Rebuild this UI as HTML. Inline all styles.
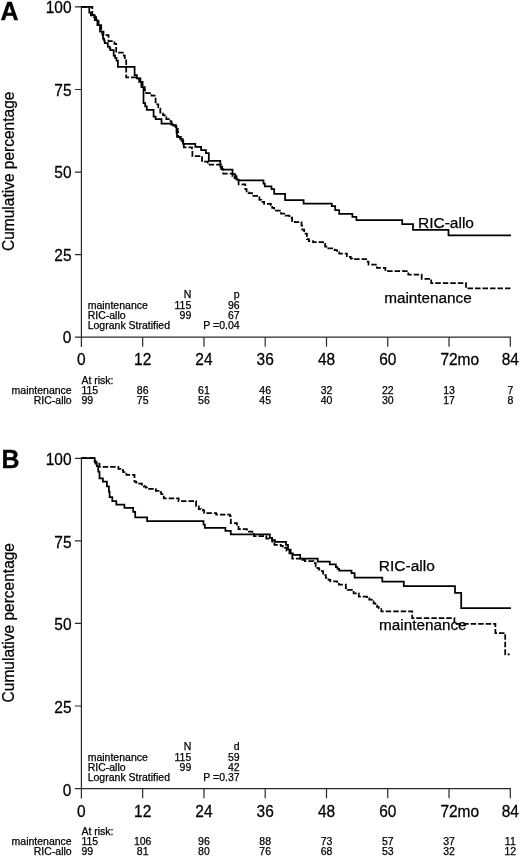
<!DOCTYPE html>
<html><head><meta charset="utf-8"><title>Kaplan-Meier</title>
<style>
html,body{margin:0;padding:0;background:#fff;}
body{width:520px;height:860px;overflow:hidden;}
svg{display:block;}
text{font-family:"Liberation Sans",Arial,sans-serif;fill:#000;stroke:#000;stroke-width:0.25px;}
.t15{font-size:15.5px;}
.t15c{font-size:15.3px;}
.t10{font-size:10.5px;}
.big{font-size:25px;font-weight:bold;fill:#000;stroke-width:0.3px;}
.ax{fill:none;stroke:#2a2a2a;stroke-width:1.2;}
.s{fill:none;stroke:#000;stroke-width:1.75;stroke-linejoin:miter;}
.d{fill:none;stroke:#000;stroke-width:1.75;stroke-dasharray:5.5 2;stroke-linejoin:miter;}
</style></head>
<body>
<svg width="520" height="860" viewBox="0 0 520 860">
<path d="M81.4 6.300000000000001V347.0M80.80000000000001 337.2H510.90000000000003" class="ax"/>
<path d="M74.9 6.90H81.4M74.9 89.48H81.4M74.9 172.05H81.4M74.9 254.63H81.4M74.9 337.20H81.4M142.67 337.2V346.8M203.94 337.2V346.8M265.21 337.2V346.8M326.49 337.2V346.8M387.76 337.2V346.8M449.03 337.2V346.8M510.30 337.2V346.8" class="ax"/>
<text transform="translate(71.5 13.1) scale(1 1.05)" class="t15" text-anchor="end">100</text>
<text transform="translate(71.5 95.7) scale(1 1.05)" class="t15" text-anchor="end">75</text>
<text transform="translate(71.5 178.2) scale(1 1.05)" class="t15" text-anchor="end">50</text>
<text transform="translate(71.5 260.8) scale(1 1.05)" class="t15" text-anchor="end">25</text>
<text transform="translate(71.5 343.4) scale(1 1.05)" class="t15" text-anchor="end">0</text>
<text transform="translate(81.4 364.7) scale(1 1.05)" class="t15" text-anchor="middle">0</text>
<text transform="translate(142.7 364.7) scale(1 1.05)" class="t15" text-anchor="middle">12</text>
<text transform="translate(203.9 364.7) scale(1 1.05)" class="t15" text-anchor="middle">24</text>
<text transform="translate(265.2 364.7) scale(1 1.05)" class="t15" text-anchor="middle">36</text>
<text transform="translate(326.5 364.7) scale(1 1.05)" class="t15" text-anchor="middle">48</text>
<text transform="translate(387.8 364.7) scale(1 1.05)" class="t15" text-anchor="middle">60</text>
<text transform="translate(440.4 364.7) scale(1 1.05)" class="t15">72mo</text>
<text transform="translate(510.3 364.7) scale(1 1.05)" class="t15" text-anchor="middle">84</text>
<text transform="translate(14.3 171.3) rotate(-90) scale(1 1.06)" class="t15" text-anchor="middle">Cumulative percentage</text>
<text x="0.4" y="19.5" class="big">A</text>
<text x="191.3" y="297.8" class="t10" text-anchor="end">N</text>
<text x="239.6" y="297.8" class="t10" text-anchor="end">p</text>
<text x="87.7" y="308.7" class="t10">maintenance</text>
<text x="191.3" y="308.7" class="t10" text-anchor="end">115</text>
<text x="239.6" y="308.7" class="t10" text-anchor="end">96</text>
<text x="87.7" y="319.0" class="t10">RIC-allo</text>
<text x="191.3" y="319.0" class="t10" text-anchor="end">99</text>
<text x="239.6" y="319.0" class="t10" text-anchor="end">67</text>
<text x="87.7" y="329.2" class="t10">Logrank Stratified</text>
<text x="239.6" y="329.2" class="t10" text-anchor="end">P =0.04</text>
<text x="81.4" y="383.6" class="t10">At risk:</text>
<text x="71.7" y="393.7" class="t10" text-anchor="end">maintenance</text>
<text x="71.7" y="403.8" class="t10" text-anchor="end">RIC-allo</text>
<text x="81.4" y="393.7" class="t10">115</text>
<text x="142.7" y="393.7" class="t10" text-anchor="middle">86</text>
<text x="203.9" y="393.7" class="t10" text-anchor="middle">61</text>
<text x="265.2" y="393.7" class="t10" text-anchor="middle">46</text>
<text x="326.5" y="393.7" class="t10" text-anchor="middle">32</text>
<text x="387.8" y="393.7" class="t10" text-anchor="middle">22</text>
<text x="449.0" y="393.7" class="t10" text-anchor="middle">13</text>
<text x="510.3" y="393.7" class="t10" text-anchor="middle">7</text>
<text x="81.4" y="403.8" class="t10">99</text>
<text x="142.7" y="403.8" class="t10" text-anchor="middle">75</text>
<text x="203.9" y="403.8" class="t10" text-anchor="middle">56</text>
<text x="265.2" y="403.8" class="t10" text-anchor="middle">45</text>
<text x="326.5" y="403.8" class="t10" text-anchor="middle">40</text>
<text x="387.8" y="403.8" class="t10" text-anchor="middle">30</text>
<text x="449.0" y="403.8" class="t10" text-anchor="middle">17</text>
<text x="510.3" y="403.8" class="t10" text-anchor="middle">8</text>
<text x="418.0" y="228.0" class="t15">RIC-allo</text>
<text x="384.2" y="303.4" class="t15c">maintenance</text>
<path d="M81.4 457.69999999999993V798.3999999999999M80.80000000000001 788.5999999999999H510.90000000000003" class="ax"/>
<path d="M74.9 458.30H81.4M74.9 540.88H81.4M74.9 623.45H81.4M74.9 706.02H81.4M74.9 788.60H81.4M142.67 788.5999999999999V798.1999999999999M203.94 788.5999999999999V798.1999999999999M265.21 788.5999999999999V798.1999999999999M326.49 788.5999999999999V798.1999999999999M387.76 788.5999999999999V798.1999999999999M449.03 788.5999999999999V798.1999999999999M510.30 788.5999999999999V798.1999999999999" class="ax"/>
<text transform="translate(71.5 465.2) scale(1 1.05)" class="t15" text-anchor="end">100</text>
<text transform="translate(71.5 547.8) scale(1 1.05)" class="t15" text-anchor="end">75</text>
<text transform="translate(71.5 630.4) scale(1 1.05)" class="t15" text-anchor="end">50</text>
<text transform="translate(71.5 712.9) scale(1 1.05)" class="t15" text-anchor="end">25</text>
<text transform="translate(71.5 795.5) scale(1 1.05)" class="t15" text-anchor="end">0</text>
<text transform="translate(81.4 816.8) scale(1 1.05)" class="t15" text-anchor="middle">0</text>
<text transform="translate(142.7 816.8) scale(1 1.05)" class="t15" text-anchor="middle">12</text>
<text transform="translate(203.9 816.8) scale(1 1.05)" class="t15" text-anchor="middle">24</text>
<text transform="translate(265.2 816.8) scale(1 1.05)" class="t15" text-anchor="middle">36</text>
<text transform="translate(326.5 816.8) scale(1 1.05)" class="t15" text-anchor="middle">48</text>
<text transform="translate(387.8 816.8) scale(1 1.05)" class="t15" text-anchor="middle">60</text>
<text transform="translate(440.4 816.8) scale(1 1.05)" class="t15">72mo</text>
<text transform="translate(510.3 816.8) scale(1 1.05)" class="t15" text-anchor="middle">84</text>
<text transform="translate(14.3 622.7) rotate(-90) scale(1 1.06)" class="t15" text-anchor="middle">Cumulative percentage</text>
<text x="1.4" y="468.0" class="big">B</text>
<text x="191.3" y="749.9" class="t10" text-anchor="end">N</text>
<text x="239.6" y="749.9" class="t10" text-anchor="end">d</text>
<text x="87.7" y="760.8" class="t10">maintenance</text>
<text x="191.3" y="760.8" class="t10" text-anchor="end">115</text>
<text x="239.6" y="760.8" class="t10" text-anchor="end">59</text>
<text x="87.7" y="771.1" class="t10">RIC-allo</text>
<text x="191.3" y="771.1" class="t10" text-anchor="end">99</text>
<text x="239.6" y="771.1" class="t10" text-anchor="end">42</text>
<text x="87.7" y="781.3" class="t10">Logrank Stratified</text>
<text x="239.6" y="781.3" class="t10" text-anchor="end">P =0.37</text>
<text x="81.4" y="835.0" class="t10">At risk:</text>
<text x="71.7" y="845.1" class="t10" text-anchor="end">maintenance</text>
<text x="71.7" y="855.2" class="t10" text-anchor="end">RIC-allo</text>
<text x="81.4" y="845.1" class="t10">115</text>
<text x="142.7" y="845.1" class="t10" text-anchor="middle">106</text>
<text x="203.9" y="845.1" class="t10" text-anchor="middle">96</text>
<text x="265.2" y="845.1" class="t10" text-anchor="middle">88</text>
<text x="326.5" y="845.1" class="t10" text-anchor="middle">73</text>
<text x="387.8" y="845.1" class="t10" text-anchor="middle">57</text>
<text x="449.0" y="845.1" class="t10" text-anchor="middle">37</text>
<text x="510.3" y="845.1" class="t10" text-anchor="middle">11</text>
<text x="81.4" y="855.2" class="t10">99</text>
<text x="142.7" y="855.2" class="t10" text-anchor="middle">81</text>
<text x="203.9" y="855.2" class="t10" text-anchor="middle">80</text>
<text x="265.2" y="855.2" class="t10" text-anchor="middle">76</text>
<text x="326.5" y="855.2" class="t10" text-anchor="middle">68</text>
<text x="387.8" y="855.2" class="t10" text-anchor="middle">53</text>
<text x="449.0" y="855.2" class="t10" text-anchor="middle">32</text>
<text x="510.3" y="855.2" class="t10" text-anchor="middle">12</text>
<text x="378.8" y="570.6" class="t15">RIC-allo</text>
<text x="379.0" y="629.8" class="t15c">maintenance</text>
<path d="M81.4 6.9L89.3 6.9L89.3 12.6L90.9 12.6L90.9 15.4L92.1 15.4L94.8 15.4L94.8 20.2L97.4 20.2L97.4 25.0L100.0 25.0L100.0 31.7L102.3 31.7L102.3 34.6L103.0 34.6L103.0 38.5L104.0 38.5L104.0 40.4L104.7 40.4L104.7 43.2L107.8 43.2L107.8 46.7L109.6 46.7L109.6 48.0L110.3 48.0L110.3 50.1L113.0 50.1L113.7 50.1L113.7 55.7L115.1 55.7L115.1 57.8L116.5 57.8L116.5 60.6L117.9 60.6L117.9 66.9L133.4 66.9L134.6 66.9L134.6 75.0L136.9 75.0L136.9 78.4L139.2 78.4L139.2 81.9L141.4 81.9L141.4 87.0L143.5 87.0L143.5 90.3L143.5 103.0L145.2 103.0L145.2 106.4L146.8 106.4L146.8 109.8L152.2 109.8L153.6 109.8L153.6 116.5L155.6 116.5L155.6 119.2L161.5 119.2L161.5 123.5L169.2 123.5L171.3 123.5L171.3 124.5L173.3 124.5L173.3 125.5L175.4 125.5L175.4 126.5L176.5 126.5L176.5 132.3L177.0 132.3L177.0 136.9L180.0 136.9L180.0 138.8L181.5 138.8L181.5 140.8L183.0 140.8L183.0 142.3L183.0 143.8L195.3 143.8L195.3 146.8L201.1 146.8L201.1 150.2L205.9 150.2L205.9 153.1L208.8 153.1L208.8 160.8L220.3 160.8L220.3 166.5L222.2 166.5L222.2 169.5L231.2 169.5L232.5 169.5L232.5 174.2L235.2 174.2L235.2 176.2L236.5 176.2L236.5 179.6L238.6 179.6L238.6 180.3L262.1 180.3L263.5 180.3L263.5 183.6L264.8 183.6L264.8 186.3L270.2 186.3L271.5 186.3L271.5 189.0L274.2 189.0L274.2 193.8L285.1 193.8L285.1 200.1L303.6 200.1L303.6 203.5L331.8 203.5L331.8 206.2L335.2 206.2L335.2 210.2L339.2 210.2L339.2 213.8L352.4 213.8L352.4 216.8L356.4 216.8L356.4 220.2L402.2 220.2L402.2 224.1L413.0 224.1L413.0 229.8L448.5 229.8L448.5 235.4L511.0 235.4" class="s"/>
<path d="M81.4 6.9L92.3 6.9L92.3 14.9L93.8 14.9L93.8 17.2L96.2 17.2L96.2 21.1L98.6 21.1L98.6 25.0L101.2 25.0L101.2 31.7L103.5 31.7L103.5 34.6L105.4 34.6L105.4 35.2L108.5 35.2L108.5 39.0L108.5 41.1L113.4 41.1L114.4 41.1L114.4 43.9L116.2 43.9L116.2 50.8L116.2 52.6L121.4 52.6L123.8 52.6L123.8 55.7L124.8 55.7L124.8 59.2L126.2 59.2L126.2 60.6L126.2 77.3L134.6 77.3L136.2 77.3L136.2 77.8L137.9 77.8L137.9 78.4L140.4 78.4L140.4 81.9L142.6 81.9L142.6 87.0L144.7 87.0L144.7 90.3L146.2 90.3L146.2 93.0L151.5 93.0L151.5 95.7L154.2 95.7L155.6 95.7L155.6 100.4L155.6 104.4L158.3 104.4L158.3 108.5L160.3 108.5L160.3 112.5L163.0 112.5L163.0 115.2L164.7 115.2L164.7 117.2L166.3 117.2L166.3 119.2L168.9 119.2L168.9 121.2L171.4 121.2L171.4 123.3L173.7 123.3L173.7 125.0L175.9 125.0L175.9 126.8L177.8 126.8L177.8 132.5L178.3 132.5L178.3 137.0L181.3 137.0L181.3 139.0L182.8 139.0L182.8 141.0L183.3 141.0L183.3 144.9L183.8 144.9L183.8 147.3L192.0 147.3L192.0 150.2L192.4 150.2L192.4 156.0L202.0 156.0L202.0 160.8L203.0 160.8L203.0 161.7L206.8 161.7L207.8 161.7L207.8 164.6L219.3 164.6L221.2 164.6L221.2 169.1L223.2 169.1L223.2 173.6L230.5 173.6L232.5 173.6L232.5 176.0L234.5 176.0L234.5 178.0L236.5 178.0L236.5 180.0L238.6 180.0L238.6 184.3L243.9 184.3L245.3 184.3L245.3 189.0L246.6 189.0L246.6 192.4L248.6 192.4L248.6 193.0L251.3 193.0L252.0 193.0L252.0 195.8L258.1 195.8L259.4 195.8L259.4 199.8L261.4 199.8L261.4 201.8L264.1 201.8L264.1 203.8L268.8 203.8L270.9 203.8L270.9 205.2L272.2 205.2L272.2 207.9L274.2 207.9L274.2 210.6L279.6 210.6L281.0 210.6L281.0 213.6L285.4 213.6L285.4 215.6L289.4 215.6L289.4 217.6L292.1 217.6L292.1 221.0L294.8 221.0L294.8 222.0L301.5 222.0L301.5 225.7L302.2 225.7L302.2 229.7L304.2 229.7L304.2 233.7L306.9 233.7L306.9 239.1L308.9 239.1L308.9 241.1L313.0 241.1L313.0 242.2L323.1 242.2L323.1 243.8L325.1 243.8L325.1 246.5L327.3 246.5L327.3 248.3L332.3 248.3L334.6 248.3L334.6 250.2L337.0 250.2L337.0 250.9L339.2 250.9L339.2 253.5L345.4 253.5L346.9 253.5L346.9 256.2L348.5 256.2L348.5 256.9L350.8 256.9L350.8 258.5L352.3 258.5L352.3 259.2L364.6 259.2L366.2 259.2L366.2 261.5L368.5 261.5L368.5 264.6L375.4 264.6L376.9 264.6L376.9 267.9L385.4 267.9L385.4 271.2L408.3 271.2L408.3 274.6L421.7 274.6L421.7 278.8L431.2 278.8L431.2 283.0L466.0 283.0L466.0 288.3L511.0 288.3" class="d"/>
<path d="M81.4 458.1L94.1 458.1L94.8 458.1L94.8 462.1L96.8 462.1L96.8 466.2L98.2 466.2L98.2 471.5L99.5 471.5L99.5 478.3L102.9 478.3L102.9 481.6L105.6 481.6L106.9 481.6L106.9 486.3L108.9 486.3L108.9 491.7L109.6 491.7L109.6 497.1L112.3 497.1L112.3 501.1L116.3 501.1L116.3 504.5L124.4 504.5L124.4 507.9L131.8 507.9L133.2 507.9L133.2 511.9L135.2 511.9L135.2 517.3L147.1 517.3L147.1 521.1L203.5 521.1L203.5 524.5L204.9 524.5L204.9 527.9L225.4 527.9L225.4 530.8L230.8 530.8L230.8 534.4L269.8 534.4L269.8 537.9L272.1 537.9L272.1 540.2L275.0 540.2L275.0 541.9L284.2 541.9L286.0 541.9L286.0 544.8L288.0 544.8L288.0 549.5L290.6 549.5L290.6 553.4L292.8 553.4L292.8 554.9L300.2 554.9L300.2 558.5L317.7 558.5L317.7 561.6L329.8 561.6L329.8 564.3L335.9 564.3L335.9 567.0L337.5 567.0L337.5 568.8L339.2 568.8L339.2 570.6L351.5 570.6L351.5 573.1L354.6 573.1L354.6 577.7L382.3 577.7L382.3 581.5L403.8 581.5L403.8 586.1L455.0 586.1L455.0 592.9L461.2 592.9L461.2 608.2L510.9 608.2" class="s"/>
<path d="M81.4 458.1L92.8 458.1L93.5 458.1L93.5 460.8L95.5 460.8L95.5 463.5L99.5 463.5L99.5 466.8L117.7 466.8L118.4 466.8L118.4 468.8L120.4 468.8L120.4 470.2L123.1 470.2L123.1 472.2L126.4 472.2L126.4 474.9L133.2 474.9L134.5 474.9L134.5 476.9L134.5 481.6L136.2 481.6L136.2 482.6L137.9 482.6L137.9 483.6L141.9 483.6L141.9 485.7L143.9 485.7L143.9 486.7L145.9 486.7L145.9 487.7L147.0 487.7L147.0 488.8L155.8 488.8L155.8 490.9L158.5 490.9L158.5 492.2L161.2 492.2L161.2 494.2L163.8 494.2L163.8 498.3L178.6 498.3L178.6 501.0L196.1 501.0L196.1 506.3L198.8 506.3L198.8 509.0L200.9 509.0L200.9 509.7L202.9 509.7L202.9 510.4L204.2 510.4L204.2 513.1L216.2 513.1L216.2 514.6L230.0 514.6L230.0 516.2L230.8 516.2L230.8 523.1L236.9 523.1L236.9 524.6L238.5 524.6L238.5 529.2L246.9 529.2L246.9 531.5L250.0 531.5L252.3 531.5L252.3 533.8L254.0 533.8L254.0 536.0L266.3 536.0L266.3 538.5L270.0 538.5L272.2 538.5L272.2 541.6L274.4 541.6L274.4 544.8L279.0 544.8L280.9 544.8L280.9 545.8L282.9 545.8L282.9 546.7L284.8 546.7L284.8 547.7L286.5 547.7L286.5 550.6L289.4 550.6L289.4 553.4L292.3 553.4L292.3 558.6L300.2 558.6L302.5 558.6L302.5 559.9L304.9 559.9L304.9 561.2L312.3 561.2L313.6 561.2L313.6 563.0L315.7 563.0L315.7 566.3L317.4 566.3L317.4 568.0L319.0 568.0L319.0 569.7L321.0 569.7L321.0 571.0L323.1 571.0L323.1 575.1L325.8 575.1L325.8 577.8L328.5 577.8L328.5 579.8L330.3 579.8L330.3 581.3L334.6 581.3L337.2 581.3L337.2 582.9L338.9 582.9L338.9 584.6L343.3 584.6L345.8 584.6L345.8 588.1L347.6 588.1L347.6 589.8L351.9 589.8L353.6 589.8L353.6 593.3L357.1 593.3L358.8 593.3L358.8 596.7L364.9 596.7L367.0 596.7L367.0 598.2L369.2 598.2L369.2 599.6L371.8 599.6L371.8 601.3L373.6 601.3L373.6 603.3L375.3 603.3L375.3 605.4L377.0 605.4L377.0 606.8L378.7 606.8L378.7 608.2L381.3 608.2L381.3 611.3L412.2 611.3L412.2 618.2L454.4 618.2L454.4 623.8L495.4 623.8L495.4 633.0L505.2 633.0L505.2 654.4L509.7 654.4" class="d"/>
</svg>
</body></html>
